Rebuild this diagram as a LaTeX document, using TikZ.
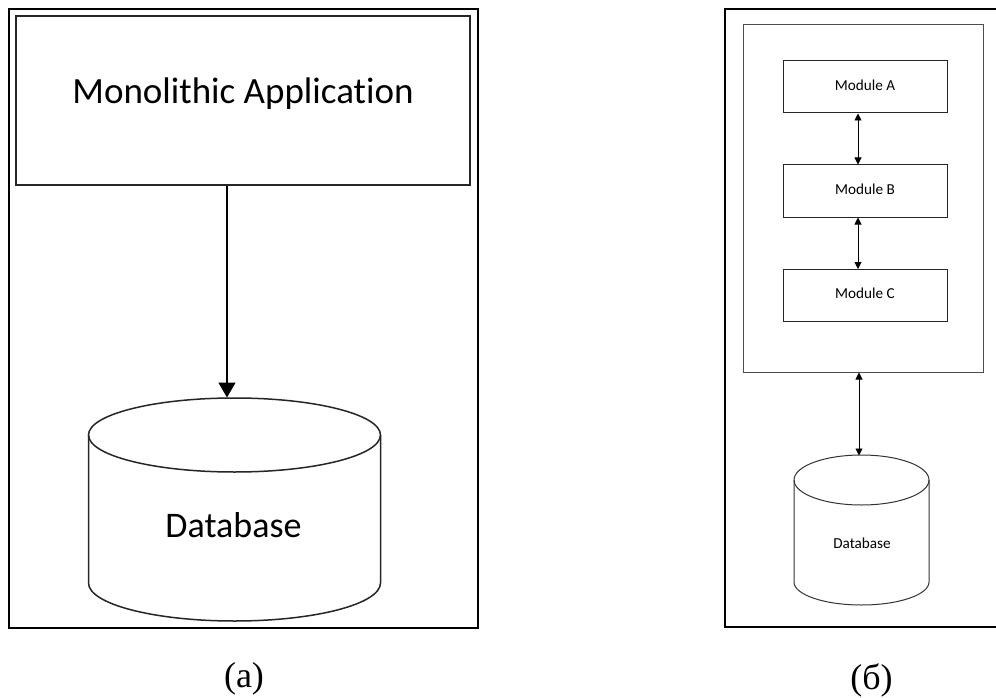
\documentclass[tikz,border=0pt]{standalone}
\usepackage{fontspec}
\setmainfont{Carlito}[Ligatures=NoCommon]
\newfontfamily\capfont{Liberation Serif}
\usetikzlibrary{arrows.meta}

\begin{document}
\begin{tikzpicture}[x=1pt,y=-1pt,
  frame/.style={draw=black, line width=2.5pt},
  bigbox/.style={draw=black!85, line width=1.6pt, inner sep=0pt,
    font=\fontsize{37}{44}\selectfont, text height=0.63em, text depth=0pt},
  modbox/.style={draw=black!85, line width=1pt, inner sep=0pt,
    minimum width=164pt, minimum height=52pt,
    font=\fontsize{15.2}{18}\selectfont, text height=0.63em, text depth=0pt},
  outerbox/.style={draw=black!70, line width=1pt, inner sep=0pt},
  bigarrow/.style={line width=1.5pt, -{Triangle[width=17pt,length=15pt]}},
  smallarrow/.style={line width=0.9pt,
    {Triangle[width=7pt,length=7pt]}-{Triangle[width=7pt,length=7pt]}},
  cyl/.style={draw=black!85, line width=1.5pt},
  smallcyl/.style={draw=black!80, line width=1pt},
  bigtext/.style={font=\fontsize{36}{42}\selectfont, inner sep=0pt, anchor=base},
  smalltext/.style={font=\fontsize{15.2}{18}\selectfont, inner sep=0pt, anchor=base},
  caption/.style={font=\capfont\fontsize{36}{40}\selectfont, inner sep=0pt}
]
\useasboundingbox (0,0) rectangle (996,698);
\fill[white] (0,0) rectangle (996,698);

% ---------- (a) monolithic application ----------
\draw[frame] (9,9) rectangle (478,628);
\node[bigbox, minimum width=454pt, minimum height=169pt] (app) at (243,100.5)
  {Monolithic Application};

% database cylinder
\draw[cyl] (88.5,435) -- (88.5,583)
  arc[start angle=180, end angle=360, x radius=146pt, y radius=38pt]
  -- (380.5,435);
\draw[cyl] (234.5,435) ellipse[x radius=146pt, y radius=37pt];
\node[bigtext] (db) at (233.5,537) {Database};
\coordinate (dbtop) at (227,397.5);

\draw[bigarrow] (app.south -| dbtop) -- (dbtop);

\node[caption] (capa) at (244,678.5) {(а)};

% ---------- (б) modular monolith ----------
\draw[frame] (998,9) -- (725,9) -- (725,627) -- (998,627);
\node[outerbox, minimum width=240pt, minimum height=347pt] (mono) at (863,198.5) {};

\node[modbox] (ma) at (865,87) {Module A};
\node[modbox] (mb) at (865,191) {Module B};
\node[modbox] (mc) at (865,295.5) {Module C};

\draw[smallarrow] ([xshift=-7pt]ma.south) -- ([xshift=-7pt]mb.north);
\draw[smallarrow] ([xshift=-7pt]mb.south) -- ([xshift=-7pt]mc.north);

% database cylinder
\draw[smallcyl] (794,480) -- (794,582)
  arc[start angle=180, end angle=360, x radius=67.5pt, y radius=23pt]
  -- (929,480);
\draw[smallcyl] (861.5,480) ellipse[x radius=67.5pt, y radius=25pt];
\node[smalltext] (rdb) at (862,548) {Database};
\coordinate (rdbtop) at (859,455.5);

\draw[smallarrow] (mono.south -| rdbtop) -- (rdbtop);

\node[caption] (capb) at (871.5,680) {(б)};
\end{tikzpicture}
\end{document}
